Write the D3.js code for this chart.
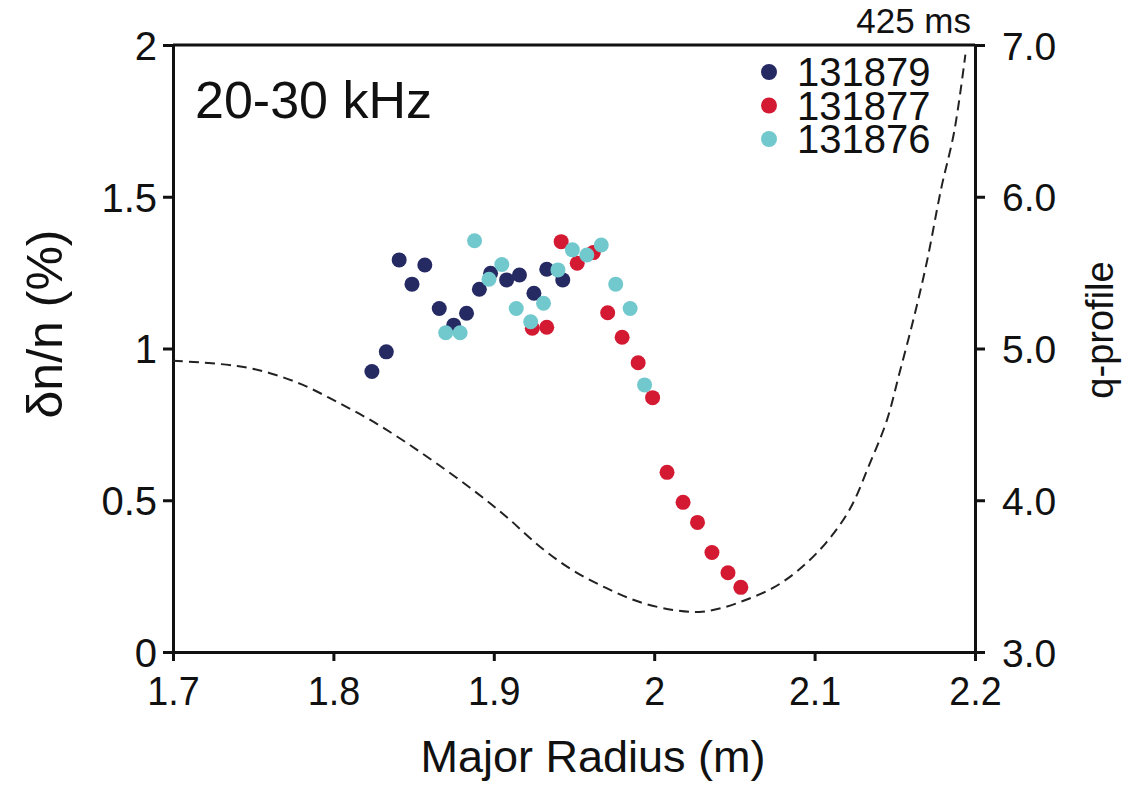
<!DOCTYPE html>
<html>
<head>
<meta charset="utf-8">
<script src="https://cdn.jsdelivr.net/npm/d3@7"></script>
<style>
    body{ margin: 0; background: #ffffff; }
    svg{ display: block; font-family: "Liberation Sans", Arial, Helvetica, sans-serif; }
    .axis path, .axis line{ stroke: #111; stroke-width: 3; }
    .axis text{ fill: #111; }
</style>
</head>
<body>
<div id="chart"></div>
<script>
// tick values / labels
const radiusTicks = [1.7, 1.8, 1.9, 2.0, 2.1, 2.2];
const radiusLabels = ["1.7", "1.8", "1.9", "2", "2.1", "2.2"];
const dnTicks = [0, 0.5, 1, 1.5, 2];
const dnLabels = ["0", "0.5", "1", "1.5", "2"];
const qTicks = [3, 4, 5, 6, 7];
const qLabels = ["3.0", "4.0", "5.0", "6.0", "7.0"];

// shots
const shotNames = ["131879", "131877", "131876"];
const shotColors = ["#262a63", "#d31a32", "#72c9cd"];

const shot131879R  = [1.824, 1.833, 1.841, 1.849, 1.857, 1.866, 1.875, 1.883, 1.891, 1.898, 1.908, 1.916, 1.925, 1.933, 1.943];
const shot131879Dn = [0.924, 0.989, 1.292, 1.212, 1.275, 1.132, 1.077, 1.116, 1.195, 1.248, 1.226, 1.242, 1.182, 1.261, 1.226];

const shot131877R  = [1.924, 1.933, 1.942, 1.952, 1.962, 1.971, 1.980, 1.990, 1.999, 2.008, 2.018, 2.027, 2.036, 2.046, 2.054];
const shot131877Dn = [1.067, 1.070, 1.352, 1.281, 1.316, 1.118, 1.037, 0.953, 0.838, 0.592, 0.493, 0.427, 0.328, 0.261, 0.213];

const shot131876R  = [1.870, 1.879, 1.888, 1.897, 1.905, 1.914, 1.923, 1.931, 1.940, 1.949, 1.958, 1.967, 1.976, 1.985, 1.994];
const shot131876Dn = [1.052, 1.052, 1.355, 1.228, 1.277, 1.132, 1.088, 1.149, 1.259, 1.325, 1.308, 1.341, 1.212, 1.132, 0.880];

// q-profile at 425 ms
const qProfileR = [1.700, 1.740, 1.760, 1.781, 1.802, 1.823, 1.843, 1.864, 1.887, 1.908, 1.929, 1.949, 1.970, 1.991, 2.012, 2.028, 2.042, 2.057, 2.074, 2.090, 2.107, 2.122, 2.134, 2.145, 2.153, 2.162, 2.170, 2.179, 2.187, 2.194];
const qProfileQ = [4.920, 4.885, 4.839, 4.760, 4.649, 4.529, 4.397, 4.245, 4.068, 3.890, 3.692, 3.540, 3.422, 3.329, 3.277, 3.264, 3.290, 3.343, 3.422, 3.540, 3.718, 3.942, 4.232, 4.525, 4.842, 5.208, 5.572, 6.058, 6.427, 6.936];

const width = 1138, height = 787;
const margin = {top: 45, right: 163, bottom: 135, left: 173};
const wViz = width - margin.left - margin.right;
const hViz = height - margin.top - margin.bottom;

const svg = d3.select("#chart").append("svg")
    .attr("width", width)
    .attr("height", height);

const x = d3.scaleLinear().domain([1.7, 2.2]).range([0, wViz]);
const yDn = d3.scaleLinear().domain([0, 2]).range([hViz, 0]);
const yQ = d3.scaleLinear().domain([3, 7]).range([hViz, 0]);

const g = svg.append("g").attr("transform", `translate(${margin.left},${margin.top})`);

// frame top line
g.append("line")
    .attr("x1", 0).attr("x2", wViz)
    .attr("y1", 0).attr("y2", 0)
    .attr("stroke", "#111").attr("stroke-width", 3);

// axes
const xAxis = g.append("g").classed("axis", true)
    .attr("transform", `translate(0,${hViz})`)
    .call(d3.axisBottom(x).tickValues(radiusTicks).tickFormat((d, i) => radiusLabels[i]).tickSize(9).tickSizeOuter(0).tickPadding(14));
xAxis.selectAll("text").attr("font-size", 41).attr("dy", 0).attr("y", 53)
    .attr("transform", "scale(0.92,1)");

const yAxis = g.append("g").classed("axis", true)
    .call(d3.axisLeft(yDn).tickValues(dnTicks).tickFormat((d, i) => dnLabels[i]).tickSize(10).tickSizeOuter(0).tickPadding(6));
yAxis.selectAll("text").attr("font-size", 40).attr("dy", "0.36em");

const qAxis = g.append("g").classed("axis", true)
    .attr("transform", `translate(${wViz},0)`)
    .call(d3.axisRight(yQ).tickValues(qTicks).tickFormat((d, i) => qLabels[i]).tickSize(10).tickSizeOuter(0).tickPadding(17));
qAxis.selectAll("text").attr("font-size", 39).attr("dy", "0.36em");

// q profile
const qLine = d3.line()
    .x(d => x(d[0]))
    .y(d => yQ(d[1]))
    .curve(d3.curveCatmullRom);

g.append("path")
    .datum(qProfileR.map((r, i) => [r, qProfileQ[i]]))
    .attr("d", qLine)
    .attr("fill", "none")
    .attr("stroke", "#222")
    .attr("stroke-width", 2)
    .attr("stroke-dasharray", "10,6");

// points, drawn navy -> red -> cyan
const shots = [
    {name: shotNames[0], color: shotColors[0], r: shot131879R, dn: shot131879Dn},
    {name: shotNames[1], color: shotColors[1], r: shot131877R, dn: shot131877Dn},
    {name: shotNames[2], color: shotColors[2], r: shot131876R, dn: shot131876Dn}
];

for(const shot of shots){
    g.append("g")
        .selectAll("circle")
        .data(shot.r.map((r, i) => ({r: r, dn: shot.dn[i]})))
        .enter()
        .append("circle")
            .attr("cx", d => x(d.r))
            .attr("cy", d => yDn(d.dn))
            .attr("r", 7.5)
            .attr("fill", shot.color);
}

// legend (one text block, lines set tight like the original)
const legend = svg.append("g").attr("transform", "translate(769,72)");
legend.selectAll("circle")
    .data(shots)
    .enter()
    .append("circle")
        .attr("cx", 0).attr("cy", (d, i) => i * 33.5)
        .attr("r", 8)
        .attr("fill", d => d.color);

legend.append("text")
    .attr("font-size", 40)
    .attr("fill", "#111")
    .selectAll("tspan")
    .data(shots)
    .enter()
    .append("tspan")
        .attr("x", 28)
        .attr("y", (d, i) => i * 33.5 + 14)
        .text(d => d.name);

// labels
svg.append("text")
    .attr("x", 195).attr("y", 118)
    .attr("font-size", 52)
    .attr("fill", "#111")
    .text("20-30 kHz");

svg.append("text")
    .attr("x", 971).attr("y", 33)
    .attr("text-anchor", "end")
    .attr("font-size", 35)
    .attr("fill", "#111")
    .text("425 ms");

svg.append("text")
    .attr("x", 593).attr("y", 772)
    .attr("text-anchor", "middle")
    .attr("font-size", 45)
    .attr("fill", "#111")
    .text("Major Radius (m)");

svg.append("text")
    .attr("transform", "translate(62,324) rotate(-90)")
    .attr("text-anchor", "middle")
    .attr("font-size", 50)
    .attr("fill", "#111")
    .text("δn/n (%)");

svg.append("text")
    .attr("transform", "translate(1113,330) rotate(-90)")
    .attr("text-anchor", "middle")
    .attr("font-size", 38)
    .attr("fill", "#111")
    .text("q-profile");
</script>
</body>
</html>
